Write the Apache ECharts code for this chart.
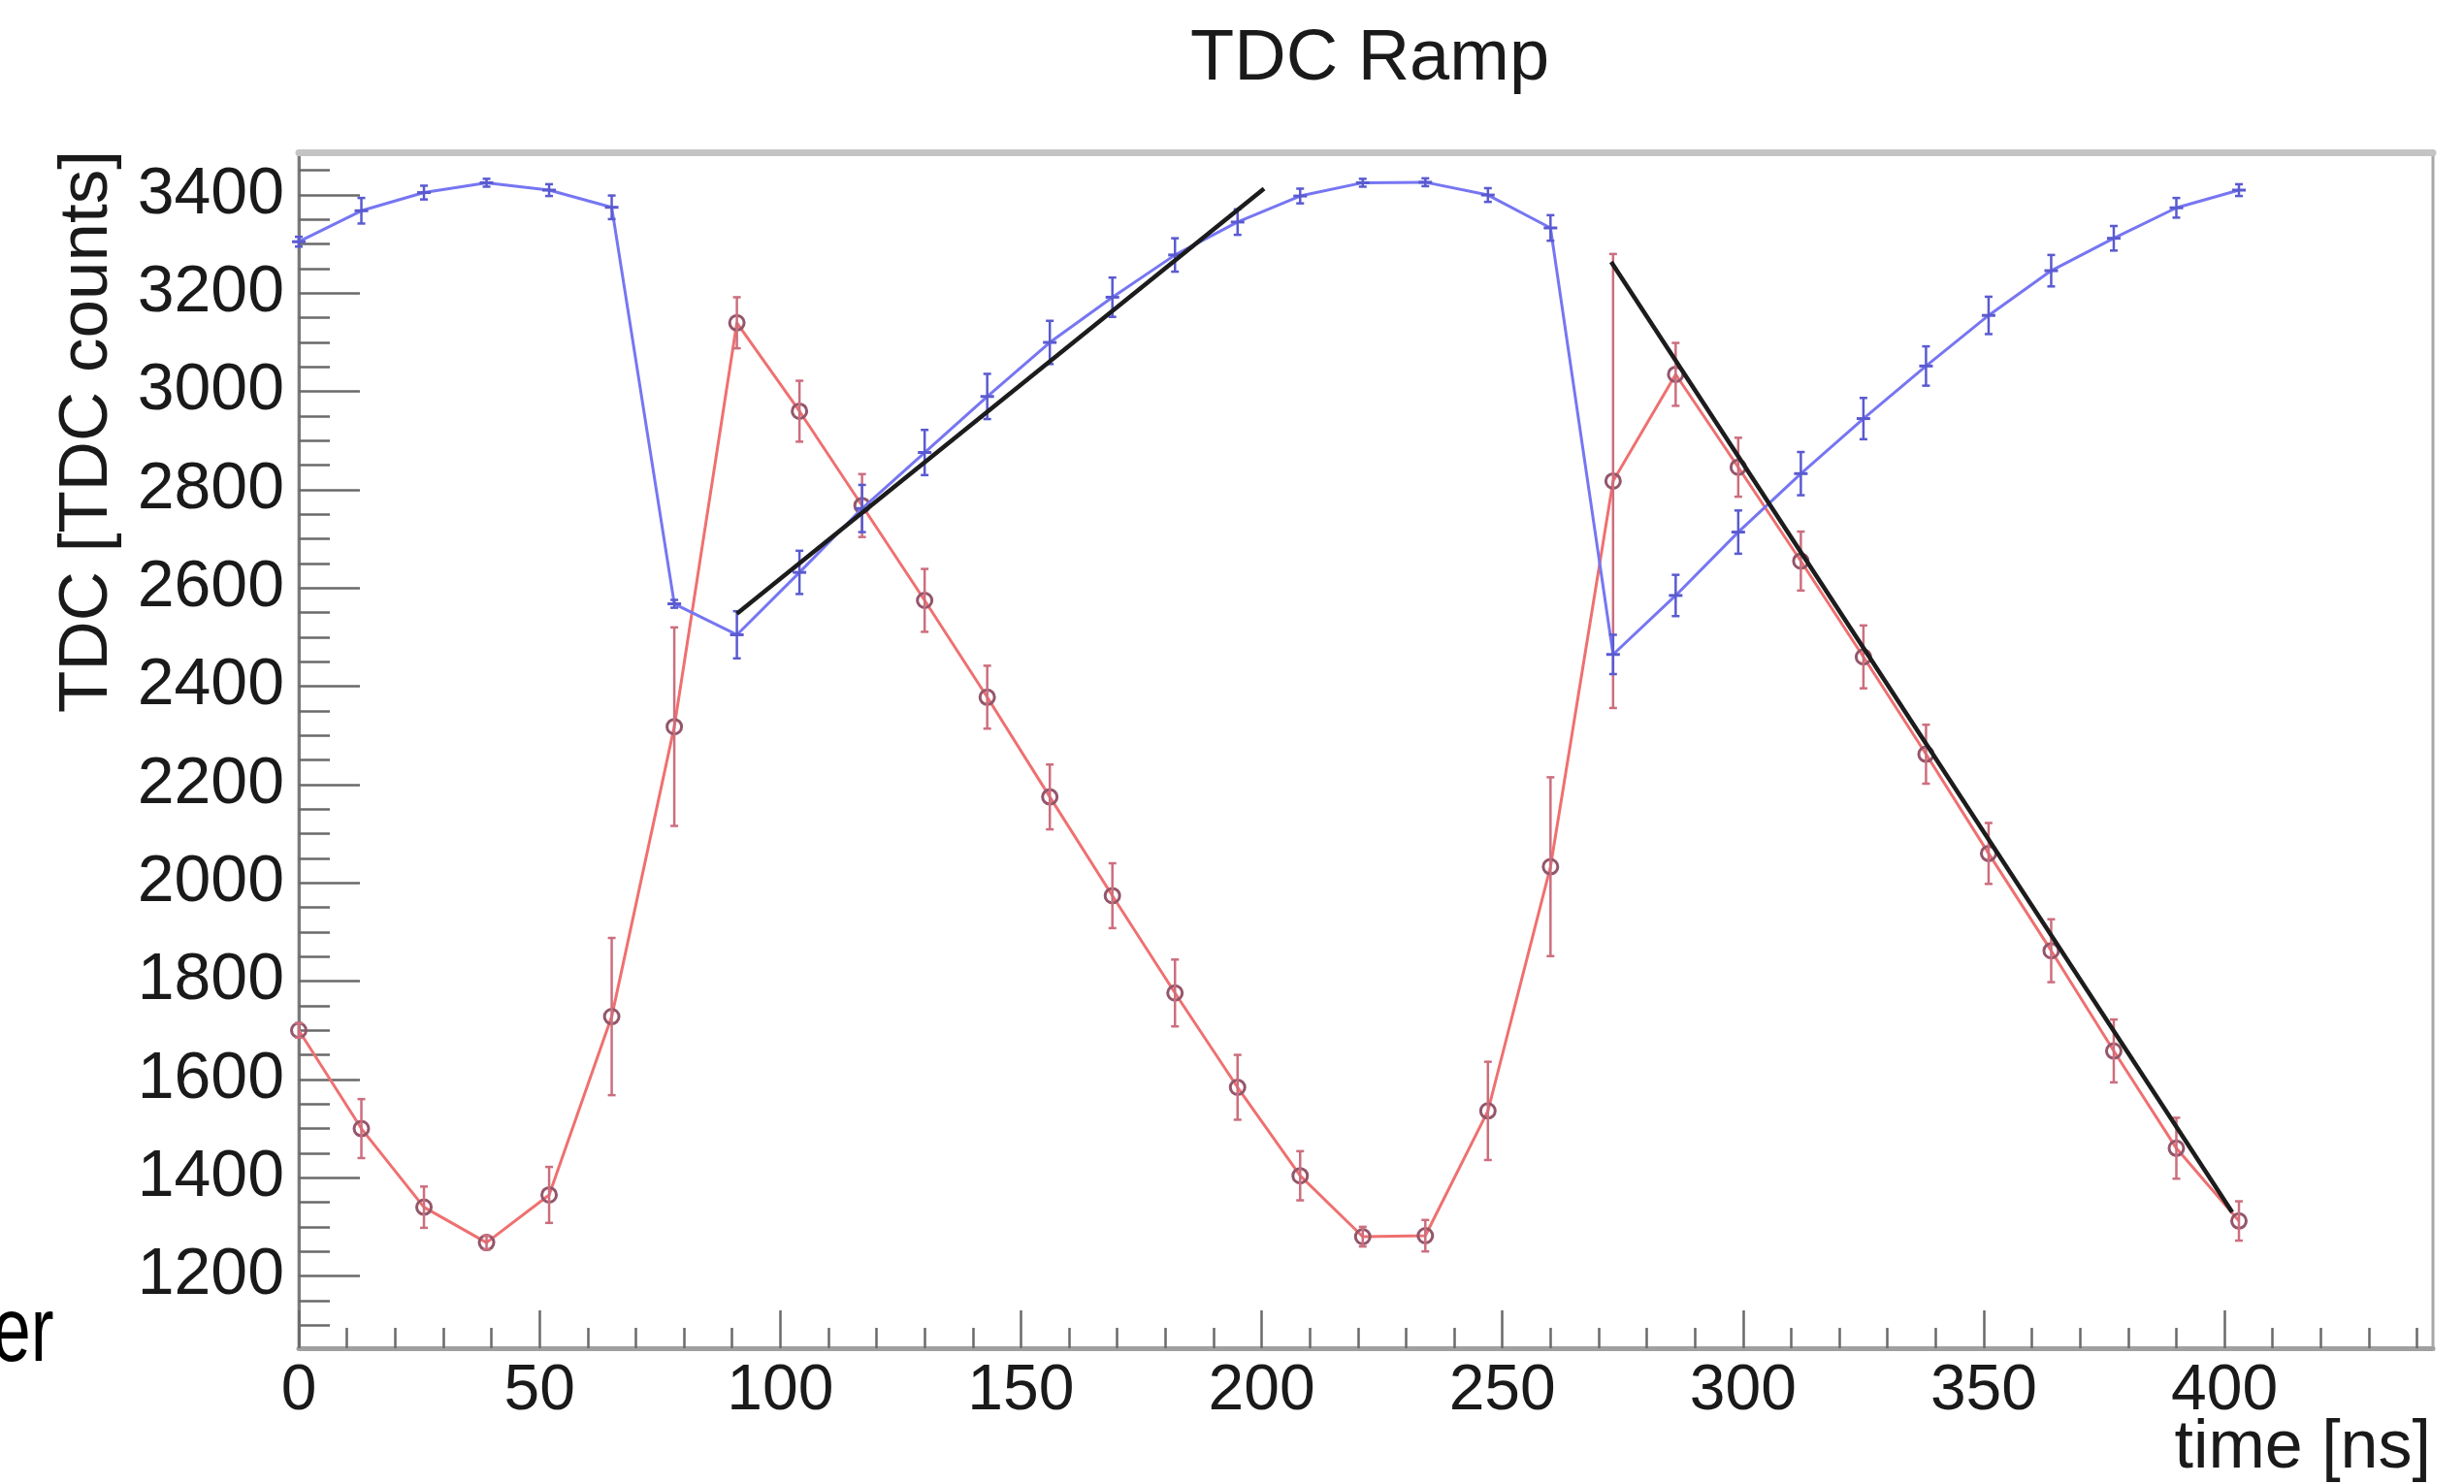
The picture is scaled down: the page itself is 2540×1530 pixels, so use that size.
<!DOCTYPE html>
<html>
<head>
<meta charset="utf-8">
<script src="https://cdn.jsdelivr.net/npm/echarts@6/dist/echarts.min.js"></script>
<style>
html,body{margin:0;padding:0;background:#fff;}
#chart{width:2540px;height:1530px;}
</style>
</head>
<body>
<div id="chart"></div>
<script>
// ---- data ----
const xTime = [0,13,26,39,52,65,78,91,104,117,130,143,156,169,182,195,208,221,234,247,260,273,286,299,312,325,338,351,364,377,390,403];
const redTDC = [1700,1500,1340,1268,1365,1728,2318,3140,2960,2768,2575,2378,2175,1974,1776,1584,1404,1280,1282,1536,2033,2818,3035,2846,2655,2460,2262,2060,1862,1658,1460,1312];
const redErr = [15,60,42,14,57,160,202,52,62,64,64,64,66,66,68,66,50,20,32,100,182,462,64,60,60,64,60,62,64,64,62,40];
const blueTDC = [3305,3368,3405,3425,3410,3375,2568,2505,2632,2762,2876,2990,3100,3192,3278,3345,3398,3425,3426,3400,3333,2465,2585,2714,2833,2945,3052,3155,3246,3312,3374,3410];
const blueErr = [10,26,14,8,12,24,8,48,44,48,46,46,44,40,34,26,15,8,8,14,26,40,42,44,44,42,40,38,32,25,20,12];
const fitRise = [[91,2548],[200.5,3413]];
const fitFall = [[272.6,3264],[401.6,1330]];
const xMajorTicks = [0,50,100,150,200,250,300,350,400];
const xMinorTicks = [10,20,30,40,60,70,80,90,110,120,130,140,160,170,180,190,210,220,230,240,260,270,280,290,310,320,330,340,360,370,380,390,410,420,430,440];
const yMajorTicks = [1200,1400,1600,1800,2000,2200,2400,2600,2800,3000,3200,3400];
const yMinorTicks = [1100,1150,1250,1300,1350,1450,1500,1550,1650,1700,1750,1850,1900,1950,2050,2100,2150,2250,2300,2350,2450,2500,2550,2650,2700,2750,2850,2900,2950,3050,3100,3150,3250,3300,3350,3450];
const xRange = [0, 443.3];
const yRange = [1053, 3487];

const FONT = 'Liberation Sans, Arial, Helvetica, sans-serif';

const redPts = xTime.map((x, i) => [x, redTDC[i]]);
const bluePts = xTime.map((x, i) => [x, blueTDC[i]]);
const redErrData = xTime.map((x, i) => [x, redTDC[i], redErr[i]]);
const blueErrData = xTime.map((x, i) => [x, blueTDC[i], blueErr[i]]);

function errRenderer(color, centerDash) {
  return function (params, api) {
    const x = api.value(0), y = api.value(1), e = api.value(2);
    const top = api.coord([x, y + e]);
    const bot = api.coord([x, y - e]);
    const mid = api.coord([x, y]);
    const cap = 4;
    const st = {stroke: color, lineWidth: 2.5};
    const children = [
      {type: 'line', shape: {x1: top[0], y1: top[1], x2: bot[0], y2: bot[1]}, style: st},
      {type: 'line', shape: {x1: top[0] - cap, y1: top[1], x2: top[0] + cap, y2: top[1]}, style: st},
      {type: 'line', shape: {x1: bot[0] - cap, y1: bot[1], x2: bot[0] + cap, y2: bot[1]}, style: st}
    ];
    if (centerDash) {
      children.push({type: 'line', shape: {x1: mid[0] - 7, y1: mid[1], x2: mid[0] + 7, y2: mid[1]}, style: {stroke: color, lineWidth: 3}});
    }
    return {type: 'group', children: children};
  };
}

const plain = v => String(v);

const chart = echarts.init(document.getElementById('chart'), null, {renderer: 'canvas'});
chart.setOption({
  animation: false,
  backgroundColor: '#ffffff',
  title: {
    text: 'TDC Ramp',
    left: 1222, top: 20,
    textStyle: {fontFamily: FONT, fontSize: 74, fontWeight: 'normal', color: '#1a1a1a'}
  },
  grid: {
    left: 308, right: 32, top: 157, bottom: 140,
    show: true, borderColor: '#a8a8a8', borderWidth: 3,
    outerBoundsMode: 'none'
  },
  xAxis: [
    {
      type: 'value', min: xRange[0], max: xRange[1], position: 'bottom',
      axisLine: {show: true, lineStyle: {color: '#a0a0a0', width: 5}},
      axisTick: {show: true, inside: true, length: 39, customValues: xMajorTicks, lineStyle: {color: '#6a6a6a', width: 2.5}},
      axisLabel: {show: true, customValues: xMajorTicks, formatter: plain, margin: 12, fontFamily: FONT, fontSize: 66, color: '#1a1a1a'},
      splitLine: {show: false}
    },
    {
      type: 'value', min: xRange[0], max: xRange[1], position: 'bottom',
      axisLine: {show: false},
      axisTick: {show: true, inside: true, length: 21, customValues: xMinorTicks, lineStyle: {color: '#6a6a6a', width: 2.5}},
      axisLabel: {show: false},
      splitLine: {show: false}
    },
    {
      type: 'value', min: xRange[0], max: xRange[1], position: 'top',
      axisLine: {show: true, lineStyle: {color: '#c4c4c4', width: 7}},
      axisTick: {show: false}, axisLabel: {show: false}, splitLine: {show: false}
    }
  ],
  yAxis: [
    {
      type: 'value', min: yRange[0], max: yRange[1], position: 'left',
      axisLine: {show: true, lineStyle: {color: '#7a7a7a', width: 3}},
      axisTick: {show: true, inside: true, length: 63, customValues: yMajorTicks, lineStyle: {color: '#6a6a6a', width: 2.5}},
      axisLabel: {show: true, customValues: yMajorTicks, formatter: plain, margin: 15, fontFamily: FONT, fontSize: 68, color: '#1a1a1a'},
      splitLine: {show: false}
    },
    {
      type: 'value', min: yRange[0], max: yRange[1], position: 'left',
      axisLine: {show: false},
      axisTick: {show: true, inside: true, length: 32, customValues: yMinorTicks, lineStyle: {color: '#6a6a6a', width: 2.5}},
      axisLabel: {show: false},
      splitLine: {show: false}
    }
  ],
  graphic: [
    {
      type: 'text', x: 90, y: 155, rotation: Math.PI / 2,
      style: {text: 'TDC [TDC counts]', fontFamily: FONT, fontSize: 71, fill: '#1a1a1a', align: 'right', verticalAlign: 'middle'}
    },
    {
      type: 'text', x: 2506, y: 1529,
      style: {text: 'time [ns]', fontFamily: FONT, fontSize: 70, fill: '#1a1a1a', align: 'right', verticalAlign: 'bottom'}
    },
    {
      type: 'text', x: -8, y: 1424, scaleX: 0.76,
      style: {text: 'er', fontFamily: FONT, fontSize: 94, fill: '#000', align: 'left', verticalAlign: 'bottom'}
    }
  ],
  series: [
    {
      name: 'red', type: 'line', data: redPts, xAxisIndex: 0, yAxisIndex: 0, z: 2,
      lineStyle: {color: '#ef7070', width: 3},
      symbol: 'circle', symbolSize: 15,
      itemStyle: {color: 'rgba(255,255,255,0)', borderColor: '#93566a', borderWidth: 3},
      showSymbol: true
    },
    {
      name: 'redErr', type: 'custom', data: redErrData, xAxisIndex: 0, yAxisIndex: 0, z: 3,
      encode: {x: 0, y: 1},
      renderItem: errRenderer('#cc6e7e', false)
    },
    {
      name: 'blue', type: 'line', data: bluePts, xAxisIndex: 0, yAxisIndex: 0, z: 4,
      lineStyle: {color: '#7676f2', width: 3},
      symbol: 'none'
    },
    {
      name: 'blueErr', type: 'custom', data: blueErrData, xAxisIndex: 0, yAxisIndex: 0, z: 5,
      encode: {x: 0, y: 1},
      renderItem: errRenderer('#5a5ad0', true)
    },
    {
      name: 'fitRise', type: 'line', data: fitRise, xAxisIndex: 0, yAxisIndex: 0, z: 8,
      lineStyle: {color: '#1c1c1c', width: 4.5}, symbol: 'none'
    },
    {
      name: 'fitFall', type: 'line', data: fitFall, xAxisIndex: 0, yAxisIndex: 0, z: 8,
      lineStyle: {color: '#1c1c1c', width: 4.5}, symbol: 'none'
    }
  ]
});
</script>
</body>
</html>
